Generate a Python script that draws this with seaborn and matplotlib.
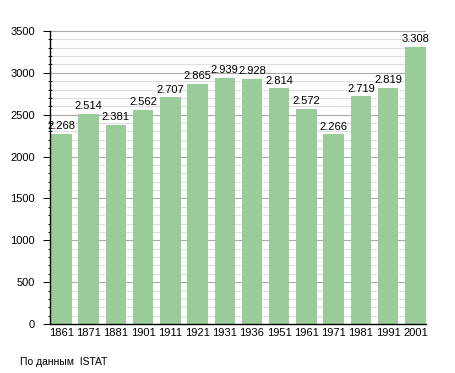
import matplotlib
matplotlib.use("Agg")
import matplotlib.pyplot as plt
import seaborn as sns
import pandas as pd
from matplotlib.ticker import MultipleLocator

years = ["1861", "1871", "1881", "1901", "1911", "1921", "1931", "1936",
         "1951", "1961", "1971", "1981", "1991", "2001"]
population = [2268, 2514, 2381, 2562, 2707, 2865, 2939, 2928,
              2814, 2572, 2266, 2719, 2819, 3308]
value_labels = ["2.268", "2.514", "2.381", "2.562", "2.707", "2.865", "2.939",
                "2.928", "2.814", "2.572", "2.266", "2.719", "2.819", "3.308"]
source_text = "По данным  ISTAT"

df = pd.DataFrame({"year": years, "pop": population})

sns.set_style("white")
plt.rcParams["font.family"] = ["Liberation Sans", "DejaVu Sans"]
plt.rcParams["text.color"] = "black"
plt.rcParams["xtick.color"] = "black"
plt.rcParams["ytick.color"] = "black"

fig = plt.figure(figsize=(4.55, 3.73), dpi=100)
ax = fig.add_axes([50 / 455, 49 / 373, 376 / 455, 293 / 373])

sns.barplot(data=df, x="year", y="pop", color="#99cc99", saturation=1,
            width=0.75, ax=ax, linewidth=0)
for p in ax.patches:
    p.set_zorder(3)

ax.set_ylim(0, 3500)
ax.set_xlim(-0.42, 13.39)
ax.yaxis.set_major_locator(MultipleLocator(500))
ax.yaxis.set_minor_locator(MultipleLocator(100))
ax.grid(which="minor", axis="y", color="#dedede", linewidth=0.8, zorder=0)
ax.grid(which="major", axis="y", color="#aaaaaa", linewidth=0.8, zorder=0)
ax.set_axisbelow(True)

for s in ["top", "right"]:
    ax.spines[s].set_visible(False)
for s in ["left", "bottom"]:
    ax.spines[s].set_color("black")
    ax.spines[s].set_linewidth(1.0)
    ax.spines[s].set_zorder(4)

ax.tick_params(axis="y", which="major", direction="out", length=5, width=0.7,
               labelsize=8, pad=6, left=True, colors="black")
ax.tick_params(axis="y", which="minor", direction="inout", length=3, width=0.6,
               left=True, colors="black")
ax.tick_params(axis="x", which="both", length=0, labelsize=8, pad=3,
               colors="black")
ax.set_xlabel("")
ax.set_ylabel("")

for i, (v, lab) in enumerate(zip(population, value_labels)):
    ax.annotate(lab, (i, v), xytext=(0, 2), textcoords="offset points",
                ha="center", va="bottom", fontsize=8, color="black", zorder=5)

fig.text(20 / 455, 1 - 362 / 373, source_text, fontsize=7.5, ha="left",
         va="center", color="black")

fig.savefig("out.png", dpi=100)
